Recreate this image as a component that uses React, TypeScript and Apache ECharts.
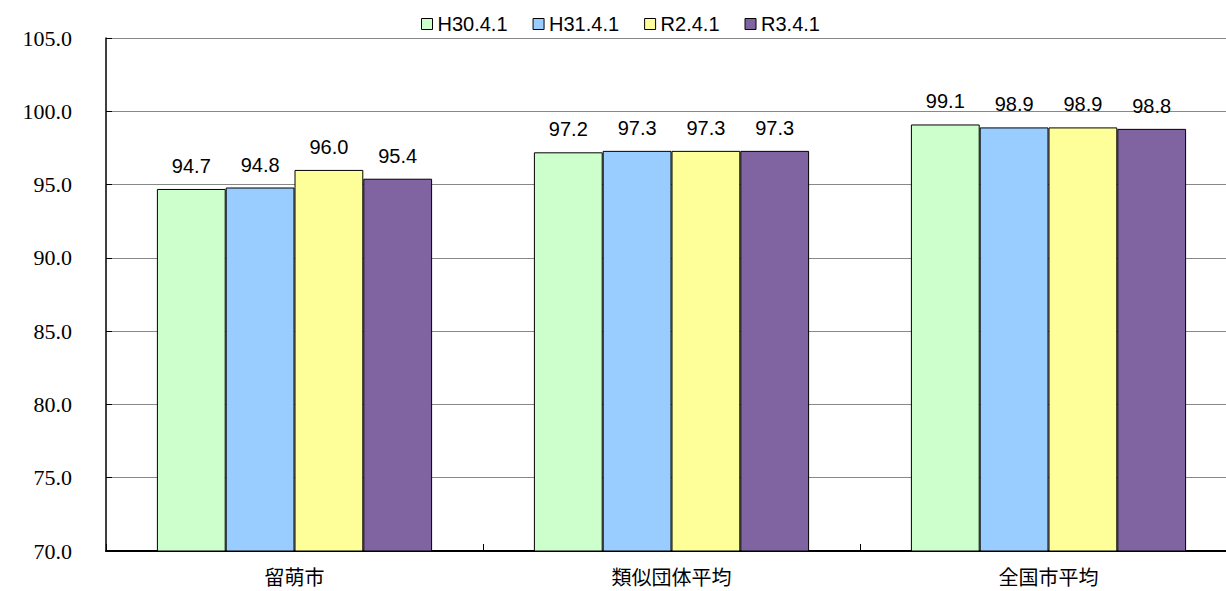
import React, { useEffect, useRef } from "react";
import * as echarts from "echarts";

const categories = ["留萌市", "類似団体平均", "全国市平均"];
const seriesNames = ["H30.4.1", "H31.4.1", "R2.4.1", "R3.4.1"];
const seriesValues = [
  [94.7, 97.2, 99.1],
  [94.8, 97.3, 98.9],
  [96.0, 97.3, 98.9],
  [95.4, 97.3, 98.8],
];
const colors = ["#CCFFCC", "#99CCFF", "#FFFF99", "#8064A2"];

export default function App() {
  const ref = useRef<HTMLDivElement>(null);
  useEffect(() => {
    const chart = echarts.init(ref.current!, null, { renderer: "svg" });
    chart.setOption({
      animation: false,
      backgroundColor: "#ffffff",
      legend: {
        top: 9,
        left: 416,
        itemWidth: 11,
        itemHeight: 11,
        itemGap: 25,
        icon: "rect",
        textStyle: { fontFamily: "Liberation Sans", fontSize: 20, color: "#000" },
        data: seriesNames.map((n, i) => ({
          name: n,
          itemStyle: { color: colors[i], borderColor: "#000", borderWidth: 1 },
        })),
      },
      grid: {
        left: 106,
        width: 1131,
        top: 38,
        bottom: 40,
        containLabel: false,
        outerBoundsMode: "none",
      },
      xAxis: {
        type: "category",
        data: categories,
        axisLine: { lineStyle: { color: "#000", width: 2 } },
        axisTick: { show: true, inside: true, length: 7, lineStyle: { color: "#000" } },
        axisLabel: {
          fontFamily: "Noto Sans CJK JP",
          fontSize: 20,
          color: "#000",
          margin: 15,
        },
      },
      yAxis: {
        type: "value",
        min: 70,
        max: 105,
        interval: 5,
        axisLine: { show: true, lineStyle: { color: "#000", width: 1.5 } },
        axisTick: { show: true, inside: true, length: 6, lineStyle: { color: "#000" } },
        splitLine: { lineStyle: { color: "#888", width: 1 } },
        axisLabel: {
          fontFamily: "Liberation Serif",
          fontSize: 22,
          color: "#000",
          margin: 34,
          formatter: (v: number) => v.toFixed(1),
        },
      },
      series: seriesNames.map((n, i) => ({
        name: n,
        type: "bar",
        data: seriesValues[i],
        barGap: "0%",
        barCategoryGap: "27%",
        itemStyle: { color: colors[i], borderColor: "#000", borderWidth: 1 },
        label: {
          show: true,
          position: "top",
          distance: 13,
          fontFamily: "Liberation Sans",
          fontSize: 20,
          color: "#000",
          formatter: (p: any) => Number(p.value).toFixed(1),
        },
      })),
    });
    return () => chart.dispose();
  }, []);
  return (
    <div
      ref={ref}
      style={{ position: "fixed", left: 0, top: 0, width: 1226, height: 591 }}
    />
  );
}
